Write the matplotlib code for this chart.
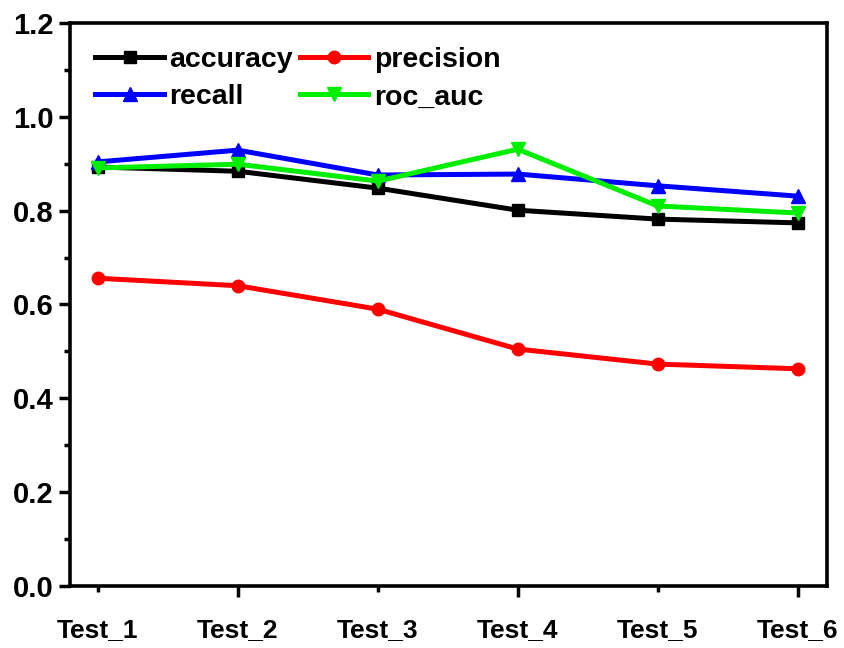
import numpy as np
import matplotlib
matplotlib.use('Agg')
matplotlib.rcParams['font.family'] = ['Liberation Sans', 'DejaVu Sans']
matplotlib.rcParams['font.weight'] = 'bold'
from matplotlib import pyplot as plt
from matplotlib.ticker import MultipleLocator

tests = ['Test_1', 'Test_2', 'Test_3', 'Test_4', 'Test_5', 'Test_6']
accuracy = [0.893, 0.884, 0.848, 0.801, 0.782, 0.774]
precision = [0.656, 0.640, 0.590, 0.505, 0.473, 0.463]
recall = [0.904, 0.929, 0.876, 0.878, 0.853, 0.831]
roc_auc = [0.891, 0.899, 0.863, 0.931, 0.810, 0.795]

fig = plt.figure(figsize=(8.45, 6.48), dpi=100)
ax = fig.add_axes([0.0828, 0.0957, 0.8959, 0.8688])

x = np.arange(len(tests))
l1, = ax.plot(x, accuracy, color='black', marker='s', markersize=8, lw=3.6, label='accuracy')
l2, = ax.plot(x, precision, color='red', marker='o', markersize=9, lw=3.6, label='precision')
l3, = ax.plot(x, recall, color='blue', marker='^', markersize=10, lw=3.6, label='recall')
l4, = ax.plot(x, roc_auc, color='#00ee00', marker='v', markersize=10, lw=3.6, label='roc_auc')

ax.set_xlim(-0.2, 5.21)
ax.set_ylim(0, 1.2)

# origin style: long ticks on every second category, short ones between
ax.set_xticks(x[1::2])
ax.set_xticklabels(tests[1::2])
ax.set_xticks(x[0::2], minor=True)
ax.set_xticklabels(tests[0::2], minor=True)
ax.yaxis.set_major_locator(MultipleLocator(0.2))
ax.yaxis.set_minor_locator(MultipleLocator(0.1))
ax.yaxis.set_major_formatter(matplotlib.ticker.FormatStrFormatter('%.1f'))

ax.tick_params(axis='both', which='major', direction='out', length=8, width=2.5)
ax.tick_params(axis='y', which='major', labelsize=21, pad=4)
ax.tick_params(axis='x', which='major', labelsize=19, pad=15)
ax.tick_params(axis='x', which='minor', direction='out', length=4, width=2.5, labelsize=19, pad=19)
ax.tick_params(axis='y', which='minor', direction='out', length=4, width=2.5)
for lab in ax.get_xticklabels(which='both') + ax.get_yticklabels():
    lab.set_fontweight('bold')

for s in ax.spines.values():
    s.set_linewidth(2.6)

# legend filled row by row like the original
ax.legend([l1, l3, l2, l4], ['accuracy', 'recall', 'precision', 'roc_auc'],
          loc='upper left', ncol=2, frameon=False, handlelength=2.4,
          handletextpad=0.2, columnspacing=0.25, labelspacing=0.39,
          borderaxespad=0.0, bbox_to_anchor=(0.0185, 0.977),
          prop={'weight': 'bold', 'size': 20.5})

plt.savefig('out.png', dpi=100)
plt.close()
